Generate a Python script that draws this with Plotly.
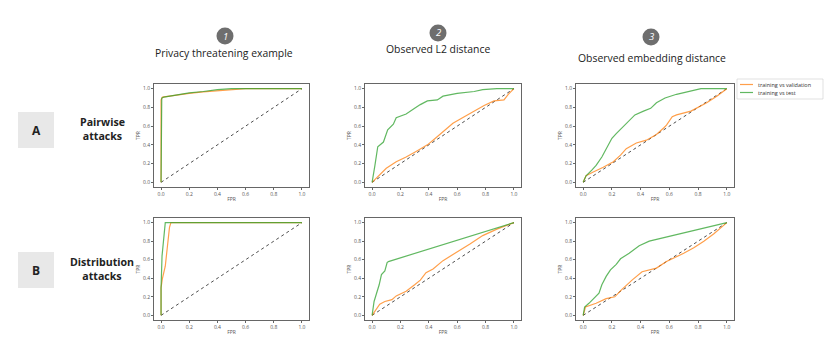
import plotly.graph_objects as go

W, H = 830, 353

# ---- data ----
col_titles = ["Privacy threatening example", "Observed L2 distance", "Observed embedding distance"]
col_numbers = ["1", "2", "3"]
row_labels = ["Pairwise<br>attacks", "Distribution<br>attacks"]
row_letters = ["A", "B"]
tick_vals = [0.0, 0.2, 0.4, 0.6, 0.8, 1.0]
tick_text = ["0.0", "0.2", "0.4", "0.6", "0.8", "1.0"]
series_names = ["training vs validation", "training vs test"]

# A1 privacy threatening, pairwise
a1_val_fpr = [0.0, 0.0, 0.01, 0.05, 0.1, 0.2, 0.3, 0.4, 0.5, 0.6, 0.8, 1.0]
a1_val_tpr = [0.0, 0.88, 0.91, 0.92, 0.93, 0.95, 0.965, 0.975, 0.99, 1.0, 1.0, 1.0]
a1_test_fpr = [0.0, 0.0, 0.005, 0.02, 0.1, 0.2, 0.3, 0.4, 0.5, 0.7, 1.0]
a1_test_tpr = [0.0, 0.84, 0.9, 0.91, 0.93, 0.955, 0.97, 0.99, 1.0, 1.0, 1.0]

# A2 observed L2, pairwise
a2_val_fpr = [0.0, 0.04, 0.1, 0.17, 0.24, 0.31, 0.39, 0.43, 0.5, 0.57, 0.65, 0.72, 0.79, 0.86, 0.93, 0.96, 1.0]
a2_val_tpr = [0.0, 0.06, 0.15, 0.22, 0.27, 0.33, 0.40, 0.45, 0.54, 0.63, 0.70, 0.76, 0.82, 0.87, 0.88, 0.94, 1.0]
a2_test_fpr = [0.0, 0.01, 0.02, 0.04, 0.08, 0.11, 0.15, 0.17, 0.24, 0.30, 0.34, 0.39, 0.46, 0.50, 0.60, 0.72, 0.78, 0.88, 1.0]
a2_test_tpr = [0.0, 0.08, 0.18, 0.38, 0.43, 0.56, 0.62, 0.69, 0.73, 0.79, 0.83, 0.87, 0.88, 0.92, 0.95, 0.97, 0.99, 1.0, 1.0]

# A3 observed embedding, pairwise
a3_val_fpr = [0.0, 0.02, 0.07, 0.14, 0.21, 0.26, 0.30, 0.37, 0.44, 0.51, 0.56, 0.58, 0.62, 0.65, 0.75, 0.79, 0.86, 0.93, 1.0]
a3_val_tpr = [0.0, 0.07, 0.11, 0.16, 0.22, 0.29, 0.36, 0.42, 0.45, 0.51, 0.58, 0.61, 0.70, 0.72, 0.76, 0.79, 0.85, 0.92, 1.0]
a3_test_fpr = [0.0, 0.02, 0.06, 0.09, 0.13, 0.16, 0.20, 0.23, 0.27, 0.30, 0.36, 0.42, 0.47, 0.51, 0.57, 0.65, 0.75, 0.82, 1.0]
a3_test_tpr = [0.0, 0.07, 0.13, 0.18, 0.27, 0.36, 0.47, 0.52, 0.58, 0.63, 0.72, 0.76, 0.79, 0.85, 0.90, 0.94, 0.98, 1.0, 1.0]

# B1 privacy threatening, distribution
b1_val_fpr = [0.0, 0.0, 0.01, 0.03, 0.04, 0.05, 0.06, 0.07, 1.0]
b1_val_tpr = [0.0, 0.30, 0.40, 0.53, 0.67, 0.86, 0.95, 1.0, 1.0]
b1_test_fpr = [0.0, 0.0, 0.007, 0.02, 0.03, 1.0]
b1_test_tpr = [0.0, 0.29, 0.64, 0.86, 1.0, 1.0]

# B2 observed L2, distribution
b2_val_fpr = [0.0, 0.03, 0.054, 0.09, 0.14, 0.17, 0.24, 0.30, 0.34, 0.38, 0.43, 0.50, 0.60, 0.69, 0.78, 0.88, 1.0]
b2_val_tpr = [0.0, 0.06, 0.12, 0.15, 0.17, 0.21, 0.26, 0.33, 0.38, 0.46, 0.50, 0.59, 0.68, 0.77, 0.86, 0.93, 1.0]
b2_test_fpr = [0.0, 0.007, 0.014, 0.03, 0.05, 0.066, 0.09, 0.106, 0.115, 1.0]
b2_test_tpr = [0.0, 0.10, 0.15, 0.23, 0.33, 0.44, 0.48, 0.57, 0.58, 1.0]

# B3 observed embedding, distribution
b3_val_fpr = [0.0, 0.016, 0.09, 0.16, 0.22, 0.27, 0.34, 0.41, 0.51, 0.58, 0.70, 0.77, 0.84, 0.91, 1.0]
b3_val_tpr = [0.0, 0.09, 0.13, 0.18, 0.20, 0.28, 0.38, 0.47, 0.51, 0.58, 0.67, 0.73, 0.80, 0.88, 1.0]
b3_test_fpr = [0.0, 0.01, 0.04, 0.075, 0.11, 0.13, 0.16, 0.19, 0.23, 0.26, 0.32, 0.39, 0.46, 1.0]
b3_test_tpr = [0.0, 0.09, 0.13, 0.18, 0.24, 0.33, 0.42, 0.49, 0.55, 0.61, 0.67, 0.75, 0.80, 1.0]

chance = [0.0, 1.0]

panels = [
    [(a1_val_fpr, a1_val_tpr, a1_test_fpr, a1_test_tpr),
     (a2_val_fpr, a2_val_tpr, a2_test_fpr, a2_test_tpr),
     (a3_val_fpr, a3_val_tpr, a3_test_fpr, a3_test_tpr)],
    [(b1_val_fpr, b1_val_tpr, b1_test_fpr, b1_test_tpr),
     (b2_val_fpr, b2_val_tpr, b2_test_fpr, b2_test_tpr),
     (b3_val_fpr, b3_val_tpr, b3_test_fpr, b3_test_tpr)],
]

# ---- layout (pixels) ----
col_px = [(154, 309), (365, 521), (576, 734)]
row_px = [(84, 187), (218, 320)]

def px_x(p):
    return p / W

def px_y(p):
    return 1 - p / H

ORANGE = "rgba(255,127,14,0.75)"
GREEN = "rgba(44,160,44,0.75)"
FONT = "Open Sans"

fig = go.Figure()
layout_axes = {}
idx = 0
for r in range(2):
    for c in range(3):
        idx += 1
        xa = "x" if idx == 1 else f"x{idx}"
        ya = "y" if idx == 1 else f"y{idx}"
        vf, vt, tf, tt = panels[r][c]
        fig.add_trace(go.Scatter(x=chance, y=chance, mode="lines", xaxis=xa, yaxis=ya,
                                 line=dict(color="black", width=0.7, dash="dot"),
                                 showlegend=False, hoverinfo="skip"))
        fig.add_trace(go.Scatter(x=vf, y=vt, mode="lines", xaxis=xa, yaxis=ya,
                                 line=dict(color=ORANGE, width=1.2),
                                 name=series_names[0], showlegend=False))
        fig.add_trace(go.Scatter(x=tf, y=tt, mode="lines", xaxis=xa, yaxis=ya,
                                 line=dict(color=GREEN, width=1.2),
                                 name=series_names[1], showlegend=False))
        common = dict(range=[-0.05, 1.05], tickvals=tick_vals, ticktext=tick_text,
                      showgrid=False, zeroline=False, showline=True, mirror=True,
                      linecolor="#666666", linewidth=0.8, ticks="outside", ticklen=2,
                      tickwidth=0.6, tickcolor="#666666",
                      tickfont=dict(size=5, color="#555555", family=FONT))
        x0, x1 = col_px[c]
        y0, y1 = row_px[r]
        layout_axes["xaxis" if idx == 1 else f"xaxis{idx}"] = dict(
            common, domain=[px_x(x0), px_x(x1)], anchor=ya,
            title=dict(text="FPR", font=dict(size=5, color="#555555", family=FONT), standoff=1))
        layout_axes["yaxis" if idx == 1 else f"yaxis{idx}"] = dict(
            common, domain=[px_y(y1), px_y(y0)], anchor=xa,
            title=dict(text="TPR", font=dict(size=5, color="#555555", family=FONT), standoff=2))

fig.update_layout(**layout_axes)

shapes = []
annotations = []

def text_ann(text, x, y, size, color="#222222", xanchor="center"):
    return dict(text=text, xref="paper", yref="paper", x=px_x(x), y=px_y(y),
                xanchor=xanchor, yanchor="middle", showarrow=False,
                font=dict(size=size, color=color, family=FONT))

# column headers with numbered circles
circle_pos = [(225, 36), (438, 33), (651, 37)]
title_pos = [(224, 53), (438, 49), (652, 58)]
for i in range(3):
    cx, cy = circle_pos[i]
    shapes.append(dict(type="circle", xref="paper", yref="paper",
                       x0=px_x(cx - 8.5), x1=px_x(cx + 8.5), y0=px_y(cy + 8.5), y1=px_y(cy - 8.5),
                       fillcolor="#6e6e6e", line=dict(width=0)))
    annotations.append(text_ann(f"<i>{col_numbers[i]}</i>", cx, cy, 9.5, "white"))
    tx, ty = title_pos[i]
    annotations.append(text_ann(col_titles[i], tx, ty, 10.4))

# row labels with letter boxes
box_y = [(112, 148), (252, 288)]
label_y = [129, 269]
for i in range(2):
    by0, by1 = box_y[i]
    shapes.append(dict(type="rect", xref="paper", yref="paper",
                       x0=px_x(18), x1=px_x(54), y0=px_y(by1), y1=px_y(by0),
                       fillcolor="#e8e8e8", line=dict(width=0)))
    annotations.append(text_ann(f"<b>{row_letters[i]}</b>", 36, (by0 + by1) / 2, 12))
    annotations.append(text_ann(f"<b>{row_labels[i]}</b>", 102, label_y[i], 10.6))

# legend (drawn manually to match the compact matplotlib legend)
shapes.append(dict(type="rect", xref="paper", yref="paper",
                   x0=px_x(737), x1=px_x(823), y0=px_y(99), y1=px_y(79),
                   fillcolor="white", line=dict(color="#cccccc", width=0.6)))
legend_colors = [ORANGE, GREEN]
legend_y = [84.5, 92.5]
for i in range(2):
    shapes.append(dict(type="line", xref="paper", yref="paper",
                       x0=px_x(740), x1=px_x(753), y0=px_y(legend_y[i]), y1=px_y(legend_y[i]),
                       line=dict(color=legend_colors[i], width=1.2)))
    annotations.append(text_ann(series_names[i], 756, legend_y[i], 5.5, "#333333", xanchor="left"))

fig.update_layout(
    width=W, height=H, margin=dict(l=0, r=0, t=0, b=0),
    paper_bgcolor="white", plot_bgcolor="white",
    shapes=shapes, annotations=annotations,
    showlegend=False,
)

fig.write_html("out.html", config={"displayModeBar": False},
               post_script="document.body.style.margin='0';")
